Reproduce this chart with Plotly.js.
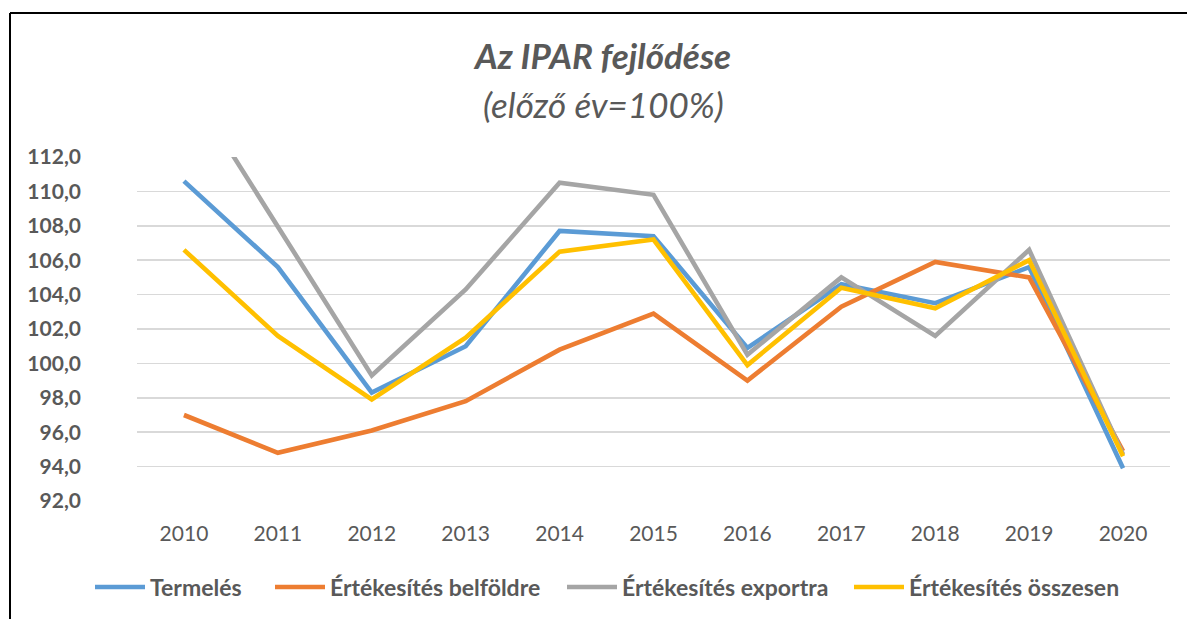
<!DOCTYPE html>
<html>
<head>
<meta charset="utf-8">
<script src="https://cdn.plot.ly/plotly-3.0.1.min.js"></script>
<style>
html,body{margin:0;padding:0;background:#fff;}
#chart{width:1187px;height:619px;}
</style>
</head>
<body>
<div id="chart"></div>
<script>
const years = ['2010','2011','2012','2013','2014','2015','2016','2017','2018','2019','2020'];
const termeles   = [110.6, 105.6, 98.3, 101.0, 107.7, 107.4, 100.9, 104.6, 103.5, 105.6, 93.9];
const belfoldre  = [97.0, 94.8, 96.1, 97.8, 100.8, 102.9, 99.0, 103.3, 105.9, 105.0, 94.9];
const exportra   = [116.6, 107.9, 99.3, 104.3, 110.5, 109.8, 100.5, 105.0, 101.6, 106.6, 94.7];
const osszesen   = [106.6, 101.6, 97.9, 101.5, 106.5, 107.2, 99.9, 104.4, 103.2, 106.0, 94.6];
const seriesNames = ['Termelés', 'Értékesítés belföldre', 'Értékesítés exportra', 'Értékesítés összesen'];
const yTicks = [92, 94, 96, 98, 100, 102, 104, 106, 108, 110, 112];
const titleText = 'Az IPAR fejlődése';
const subtitleText = '(előző év=100%)';

const colors = ['#5B9BD5', '#ED7D31', '#A5A5A5', '#FFC000'];
const allSeries = [termeles, belfoldre, exportra, osszesen];
const FONT = 'Lato, "Open Sans", sans-serif';
const legendIds = ['legend', 'legend2', 'legend3', 'legend4'];
const legendLeft = [90, 270, 562, 849];

const traces = allSeries.map((vals, i) => ({
  type: 'scatter',
  mode: 'lines',
  x: years,
  y: vals,
  name: seriesNames[i],
  legend: legendIds[i],
  line: {color: colors[i], width: 4.6},
  hoverinfo: 'x+y+name'
}));

const L = 137, R = 1170, T = 157, B = 501;
const px2x = p => (p - L) / (R - L);
const py2y = p => (B - p) / (B - T);

const layout = {
  width: 1187,
  height: 619,
  margin: {l: L, r: 1187 - R, t: T, b: 619 - B, autoexpand: false},
  paper_bgcolor: '#ffffff',
  plot_bgcolor: '#ffffff',
  separators: ', ',
  font: {family: FONT, color: '#595959'},
  showlegend: true,
  xaxis: {
    type: 'category',
    range: [-0.5, years.length - 0.5],
    showgrid: false,
    zeroline: false,
    showline: false,
    ticks: '',
    tickfont: {family: FONT, size: 21, color: '#595959'},
    ticklabelstandoff: 18,
    fixedrange: true
  },
  yaxis: {
    range: [92, 112],
    tickvals: yTicks,
    tickformat: '.1f',
    showgrid: true,
    gridcolor: '#D9D9D9',
    gridwidth: 1.5,
    zeroline: false,
    showline: false,
    ticks: '',
    tickfont: {family: FONT, size: 21, color: '#595959', weight: 'bold'},
    ticklabelstandoff: 55,
    fixedrange: true
  },
  annotations: [
    {text: '<b><i>' + titleText + '</i></b>', xref: 'paper', yref: 'paper',
     x: px2x(602), y: py2y(55), xanchor: 'center', yanchor: 'middle', showarrow: false,
     font: {family: FONT, size: 35, color: '#595959'}},
    {text: '<i>' + subtitleText + '</i>', xref: 'paper', yref: 'paper',
     x: px2x(603), y: py2y(104), xanchor: 'center', yanchor: 'middle', showarrow: false,
     font: {family: FONT, size: 35, color: '#595959'}}
  ],
  shapes: [
    {type: 'line', xref: 'paper', yref: 'paper', x0: px2x(10), x1: px2x(1187), y0: py2y(13), y1: py2y(13),
     line: {color: '#000000', width: 2}},
    {type: 'line', xref: 'paper', yref: 'paper', x0: px2x(10), x1: px2x(10), y0: py2y(13), y1: py2y(619),
     line: {color: '#000000', width: 2}}
  ]
};

legendIds.forEach((id, i) => {
  layout[id] = {
    orientation: 'h',
    x: px2x(legendLeft[i]), xanchor: 'left',
    y: py2y(587), yanchor: 'middle',
    font: {family: FONT, size: 23, color: '#595959', weight: 'bold'},
    itemwidth: 50,
    bgcolor: 'rgba(0,0,0,0)'
  };
});

Plotly.newPlot('chart', traces, layout, {displayModeBar: false, staticPlot: true});
</script>
</body>
</html>
